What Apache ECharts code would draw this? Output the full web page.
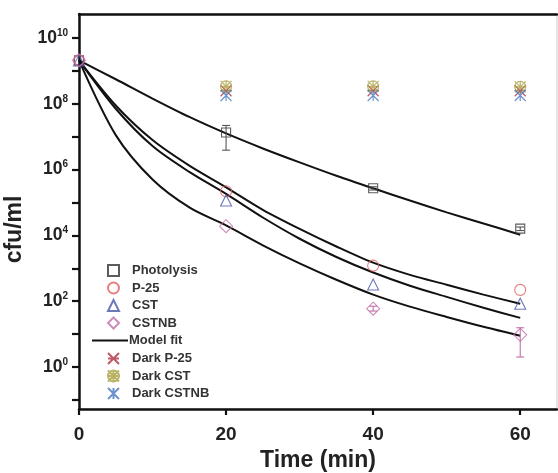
<!DOCTYPE html>
<html><head><meta charset="utf-8">
<script src="https://cdn.jsdelivr.net/npm/echarts@6/dist/echarts.min.js"></script>
<style>html,body{margin:0;padding:0;background:#fff}#c{width:558px;height:473px}</style>
</head><body><div id="c"></div>
<script>
// ---- data ----
const times = [0, 20, 40, 60];
const photolysis = [2.1e9, 1.35e7, 2.7e5, 1.6e4];
const p25 = [2.1e9, 2.2e5, 1.2e3, 2.2e2];
const cst = [2.1e9, 1.15e5, 3.2e2, 83];
const cstnb = [2.1e9, 1.9e4, 59, 9.5];
const darkTimes = [20, 40, 60];
const darkP25 = [2.5e8, 2.5e8, 2.5e8];
const darkCST = [3.4e8, 3.4e8, 3.3e8];
const darkCSTNB = [1.8e8, 1.8e8, 1.8e8];
// error bars: [time, low, high]
const errPhotolysis = [[20, 3.9e6, 2.2e7], [40, 2.4e5, 3.0e5], [60, 1.4e4, 1.8e4]];
const errCSTNB = [[60, 2.0, 15.5], [40, 50, 70]];
// model fit curves
const fitTimes = [0, 5, 10, 15, 20, 25, 30, 35, 40, 45, 50, 55, 60];
const fitPhotolysis = [2.1e9, 5.6e8, 1.45e8, 4.0e7, 1.26e7, 4.4e6, 1.66e6, 6.5e5, 2.7e5, 1.15e5, 5.0e4, 2.3e4, 1.05e4];
const fitA = [2.1e9, 8.9e7, 7.9e6, 1.32e6, 2.9e5, 6.0e4, 1.58e4, 4.6e3, 1.48e3, 630, 316, 158, 83];
const fitB = [2.1e9, 7.1e7, 5.2e6, 8.5e5, 1.82e5, 3.5e4, 7.9e3, 2.2e3, 741, 295, 135, 63, 31];
const fitC = [2.1e9, 1.12e7, 5.0e5, 7.1e4, 2.0e4, 5.0e3, 1.41e3, 447, 158, 68, 33, 16.6, 8.9];
const yTicks = [0.1, 1, 10, 100, 1e3, 1e4, 1e5, 1e6, 1e7, 1e8, 1e9, 1e10];
const yLabels = [1, 100, 1e4, 1e6, 1e8, 1e10];
const xTicks = [0, 20, 40, 60];

const pair = (xs, ys) => xs.map((x, i) => [x, ys[i]]);
const FONT = 'Liberation Sans, Arial, sans-serif';

const asterisk = 'path://M0,0L10,10M10,0L0,10M0,5L10,5';
const asteriskV = 'path://M0,0L10,10M10,0L0,10M5,0L5,10';
const crossCircle = 'path://M0,0L10,10M10,0L0,10M0,5L10,5M5,0L5,10M5,0A5,5 0 1 1 4.99,0';

function hollow(name, xs, ys, symbol, size, color) {
  return {name, type: 'scatter', data: pair(xs, ys), symbol, symbolSize: size, z: 5,
    itemStyle: {color: 'rgba(255,255,255,0)', borderColor: color, borderWidth: 1.1}};
}
function star(name, xs, ys, symbol, color) {
  return {name, type: 'scatter', data: pair(xs, ys), symbol, symbolSize: 11, z: 4,
    itemStyle: {color: 'rgba(255,255,255,0)', borderColor: color, borderWidth: 1.2}};
}
function fit(ys) {
  return {name: 'Model fit', type: 'line', data: pair(fitTimes, ys), smooth: 0.3,
    symbol: 'none', z: 3,
    lineStyle: {color: '#111', width: 2}, itemStyle: {color: '#111'}};
}
function errBars(data, color) {
  return {type: 'custom', data: data, z: 6, silent: true,
    encode: {x: 0, y: [1, 2]},
    renderItem(params, api) {
      const lo = api.coord([api.value(0), api.value(1)]);
      const hi = api.coord([api.value(0), api.value(2)]);
      const w = 4;
      const st = {stroke: color, lineWidth: 1.1};
      return {type: 'group', children: [
        {type: 'line', shape: {x1: lo[0], y1: lo[1], x2: hi[0], y2: hi[1]}, style: st},
        {type: 'line', shape: {x1: lo[0]-w, y1: lo[1], x2: lo[0]+w, y2: lo[1]}, style: st},
        {type: 'line', shape: {x1: hi[0]-w, y1: hi[1], x2: hi[0]+w, y2: hi[1]}, style: st}
      ]};
    }};
}

const legendText = {fontFamily: FONT, fontWeight: 'bold', fontSize: 13, color: '#333', padding: [0, 0, 0, 8]};
const chart = echarts.init(document.getElementById('c'), null, {renderer: 'canvas'});
chart.setOption({
  animation: false,
  backgroundColor: '#fff',
  grid: {left: 79, top: 14, right: 1, bottom: 64, show: true, borderColor: '#ccc', borderWidth: 1,
    containLabel: false, outerBoundsMode: 'none'},
  legend: [
    {left: 102, top: 259, orient: 'vertical', itemGap: 4.5, itemWidth: 11, itemHeight: 11,
      textStyle: legendText, data: ['Photolysis', 'P-25', 'CST', 'CSTNB']},
    {left: 87, top: 329, orient: 'vertical', itemWidth: 36, itemHeight: 2, icon: 'rect',
      textStyle: {fontFamily: FONT, fontWeight: 'bold', fontSize: 13, color: '#333', padding: [0, 0, 0, -4]},
      data: ['Model fit']},
    {left: 102, top: 347, orient: 'vertical', itemGap: 4.5, itemWidth: 11, itemHeight: 11,
      textStyle: legendText, data: ['Dark P-25', 'Dark CST', 'Dark CSTNB']}
  ],
  xAxis: [{
    type: 'value', min: 0, max: 65, position: 'bottom',
    name: 'Time (min)', nameLocation: 'middle', nameGap: 37,
    nameTextStyle: {fontFamily: FONT, fontWeight: 'bold', fontSize: 23, color: '#222'},
    axisLine: {lineStyle: {color: '#111', width: 2.5}},
    axisTick: {inside: false, length: 6, lineStyle: {color: '#111', width: 2.2}, customValues: xTicks},
    axisLabel: {fontFamily: FONT, fontWeight: 'bold', fontSize: 19, color: '#222', margin: 16, customValues: xTicks},
    splitLine: {show: false}
  }, {
    type: 'value', min: 0, max: 65, position: 'top',
    axisLine: {show: true, lineStyle: {color: '#111', width: 2.5}},
    axisTick: {show: false}, axisLabel: {show: false}, splitLine: {show: false}
  }],
  yAxis: {
    type: 'log', logBase: 10, min: 0.0525, max: 5.4e10,
    name: 'cfu/ml', nameLocation: 'middle', nameGap: 34,
    nameTextStyle: {fontFamily: FONT, fontWeight: 'bold', fontSize: 23, color: '#222', padding: [0, 36, 0, 0]},
    axisLine: {show: true, lineStyle: {color: '#111', width: 2.5}},
    axisTick: {inside: false, length: 7, lineStyle: {color: '#111', width: 2.2}, customValues: yTicks},
    axisLabel: {
      customValues: yLabels, margin: 11,
      formatter: v => '{b|10}{s|' + Math.round(Math.log10(v)) + '}',
      rich: {
        b: {fontFamily: FONT, fontWeight: 'bold', fontSize: 17.5, color: '#222'},
        s: {fontFamily: FONT, fontWeight: 'bold', fontSize: 10, color: '#222', verticalAlign: 'bottom', padding: [0, 0, 10, 0]}
      }
    },
    splitLine: {show: false}
  },
  series: [
    fit(fitPhotolysis), fit(fitA), fit(fitB), fit(fitC),
    errBars(errPhotolysis, '#555'), errBars(errCSTNB, '#c070a8'),
    hollow('Photolysis', times, photolysis, 'rect', 9, '#333'),
    hollow('P-25', times, p25, 'circle', 11, '#e06060'),
    hollow('CST', times, cst, 'triangle', 11, '#4858a8'),
    hollow('CSTNB', times, cstnb, 'diamond', 13, '#c070a8'),
    star('Dark P-25', darkTimes, darkP25, asterisk, '#b03040'),
    star('Dark CST', darkTimes, darkCST, crossCircle, '#a8a040'),
    star('Dark CSTNB', darkTimes, darkCSTNB, asteriskV, '#4878c0')
  ]
});
</script></body></html>
